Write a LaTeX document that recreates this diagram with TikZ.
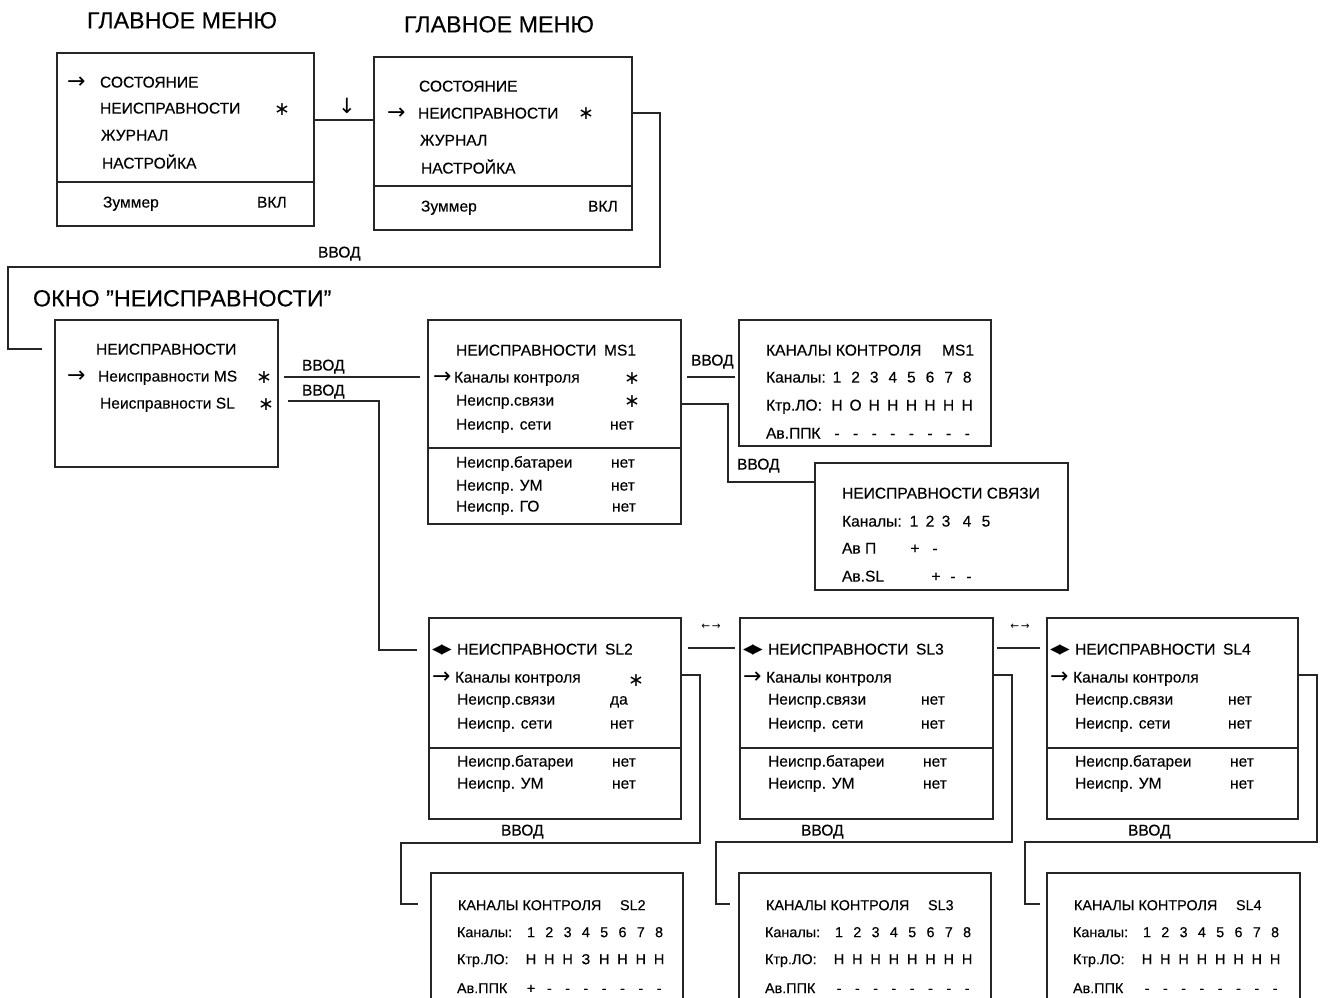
\documentclass[tikz,border=0pt]{standalone}
\usepackage{fontspec}
\setmainfont{Liberation Sans}[FakeBold=0.25]
\newfontfamily\dejavu{DejaVu Sans}
\begin{document}
\begin{tikzpicture}[x=1pt,y=-1pt, line join=miter,
  box/.style={draw=black!85, line width=1.4pt, anchor=north west, inner sep=0pt, outer sep=0pt},
  openbox/.style={anchor=north west, inner sep=0pt, outer sep=0pt},
  ln/.style={draw=black!85, line width=1.4pt},
  tx/.style={anchor=west, inner sep=0pt, outer sep=0pt, text=black, font=\fontsize{15.6}{18}\selectfont, text height=11.1pt, text depth=0pt},
  ttl/.style={tx, font=\fontsize{23.3}{27}\selectfont, text height=16.7pt},
  sm/.style={tx, font=\fontsize{14.4}{17}\selectfont, text height=10.3pt},
  cx/.style={tx, anchor=center},
  scx/.style={sm, anchor=center},
  arr/.style={tx, font=\dejavu\fontsize{22}{22}\selectfont, text height=13.4pt},
  star/.style={inner sep=0pt, outer sep=0pt, text=black, font=\dejavu\fontsize{19}{19}\selectfont},
  lr/.style={tx, font=\dejavu\fontsize{13.5}{14}\selectfont, text height=9.4pt},
  sarr/.style={inner sep=0pt, outer sep=0pt, text=black, font=\dejavu\fontsize{10.5}{11}\selectfont},
]
\useasboundingbox (0,0) rectangle (1322,998);

% ---------- titles ----------
\node[ttl] (t1) at (87,20) {ГЛАВНОЕ МЕНЮ};
\node[ttl] (t2) at (404,24) {ГЛАВНОЕ МЕНЮ};
\node[ttl] (t3) at (33,298) {ОКНО {\char34}НЕИСПРАВНОСТИ{\char34}};

% ---------- boxes ----------
\node[box, minimum width=257pt, minimum height=173pt] (A) at (57,53) {};
\node[box, minimum width=258pt, minimum height=173pt] (B) at (374,57) {};
\node[box, minimum width=223pt, minimum height=147pt] (C) at (55,320) {};
\node[box, minimum width=253pt, minimum height=204pt] (D) at (428,320) {};
\node[box, minimum width=252pt, minimum height=126pt] (E) at (739,320) {};
\node[box, minimum width=253pt, minimum height=127pt] (F) at (815,463) {};
\node[box, minimum width=252pt, minimum height=201pt] (S2) at (429,618) {};
\node[box, minimum width=253pt, minimum height=201pt] (S3) at (740,618) {};
\node[box, minimum width=251pt, minimum height=201pt] (S4) at (1047,618) {};
\node[openbox, minimum width=252pt, minimum height=125pt] (K2) at (431,873) {};
\node[openbox, minimum width=252pt, minimum height=125pt] (K3) at (739,873) {};
\node[openbox, minimum width=253pt, minimum height=125pt] (K4) at (1047,873) {};
\draw[ln] (K2.south west) |- (K2.north east) -- (K2.south east);
\draw[ln] (K3.south west) |- (K3.north east) -- (K3.south east);
\draw[ln] (K4.south west) |- (K4.north east) -- (K4.south east);

% separators
\draw[ln] (A.west |- 0,182) -- (A.east |- 0,182);
\draw[ln] (B.west |- 0,186) -- (B.east |- 0,186);
\draw[ln] (D.west |- 0,448) -- (D.east |- 0,448);
\draw[ln] (S2.west |- 0,748) -- (S2.east |- 0,748);
\draw[ln] (S3.west |- 0,748) -- (S3.east |- 0,748);
\draw[ln] (S4.west |- 0,748) -- (S4.east |- 0,748);

% ---------- box A ----------
\node[arr] (a0) at (67,82) {→};
\node[tx] (a1) at (100,82) {СОСТОЯНИЕ};
\node[tx] (a2) at (100,108) {НЕИСПРАВНОСТИ};
\node[star] (a2s) at (282,110) {∗};
\node[tx] (a3) at (101,135) {ЖУРНАЛ};
\node[tx] (a4) at (102,163) {НАСТРОЙКА};
\node[tx] (a5) at (103,202) {Зуммер};
\node[tx] (a6) at (257,202) {ВКЛ};

% ---------- box B ----------
\node[tx] (b1) at (419,86) {СОСТОЯНИЕ};
\node[arr] (b0) at (387,113) {→};
\node[tx] (b2) at (418,113) {НЕИСПРАВНОСТИ};
\node[star] (b2s) at (586,114) {∗};
\node[tx] (b3) at (420,140) {ЖУРНАЛ};
\node[tx] (b4) at (421,168) {НАСТРОЙКА};
\node[tx] (b5) at (421,206) {Зуммер};
\node[tx] (b6) at (588,206) {ВКЛ};

% ---------- box C ----------
\node[tx] (c1) at (96,349) {НЕИСПРАВНОСТИ};
\node[arr] (c0) at (67,376) {→};
\node[tx] (c2) at (98,376) {Неисправности MS};
\node[star] (c2s) at (264,378) {∗};
\node[tx] (c3) at (100,403) {Неисправности SL};
\node[star] (c3s) at (266,405) {∗};

% ---------- box D ----------
\node[tx] (d1) at (456,350) {НЕИСПРАВНОСТИ};
\node[tx] (d1b) at (604,350) {MS1};
\node[arr] (d0) at (433,377) {→};
\node[tx] (d2) at (454,377) {Каналы контроля};
\node[star] (d2s) at (632,379) {∗};
\node[tx] (d3) at (456,400) {Неиспр.связи};
\node[star] (d3s) at (632,402) {∗};
\node[tx] (d4) at (456,424) {Неиспр. сети};
\node[tx] (d4v) at (610,424) {нет};
\node[tx] (d5) at (456,462) {Неиспр.батареи};
\node[tx] (d5v) at (611,462) {нет};
\node[tx] (d6) at (456,485) {Неиспр. УМ};
\node[tx] (d6v) at (611,485) {нет};
\node[tx] (d7) at (456,506) {Неиспр. ГО};
\node[tx] (d7v) at (612,506) {нет};

% ---------- box E ----------
\node[tx] (e1) at (766,350) {КАНАЛЫ КОНТРОЛЯ};
\node[tx] (e1b) at (942,350) {MS1};
\node[tx] (e2) at (766,377) {Каналы:};
\node[tx] (e3) at (766,405) {Ктр.ЛО:};
\node[tx] (e4) at (766,433) {Ав.ППК};
\foreach \ch [count=\i] in {1,2,3,4,5,6,7,8}
  \node[cx] (ek\i) at ({837+18.6*(\i-1)},377) {\ch};
\foreach \ch [count=\i] in {Н,О,Н,Н,Н,Н,Н,Н}
  \node[cx] (el\i) at ({837+18.6*(\i-1)},405) {\ch};
\foreach \ch [count=\i] in {-,-,-,-,-,-,-,-}
  \node[cx] (ep\i) at ({837+18.6*(\i-1)},433) {\ch};

% ---------- box F ----------
\node[tx] (f1) at (842,493) {НЕИСПРАВНОСТИ СВЯЗИ};
\node[tx] (f2) at (842,521) {Каналы:};
\foreach \ch/\xx [count=\i] in {1/914,2/930,3/946,4/967,5/986}
  \node[cx] (fk\i) at (\xx,521) {\ch};
\node[tx] (f3) at (842,548) {Ав П};
\node[cx] (f3a) at (915,548) {+};
\node[cx] (f3b) at (935,548) {-};
\node[tx] (f4) at (842,576) {Ав.SL};
\node[cx] (f4a) at (936,576) {+};
\node[cx] (f4b) at (953,576) {-};
\node[cx] (f4c) at (969,576) {-};

% ---------- SL boxes ----------
\foreach \nm/\dx/\lab in {S2/0/SL2,S3/311/SL3,S4/618/SL4}{
  \node[lr] (\nm-lr) at ({432+\dx},649) {◀\hspace{-1pt}▶};
  \node[tx] (\nm-h) at ({457+\dx},649) {НЕИСПРАВНОСТИ};
  \node[tx] (\nm-hb) at ({605+\dx},649) {\lab};
  \node[arr] (\nm-ar) at ({432+\dx},677) {→};
  \node[tx] (\nm-r1) at ({455+\dx},677) {Каналы контроля};
  \node[tx] (\nm-r2) at ({457+\dx},699) {Неиспр.связи};
  \node[tx] (\nm-r3) at ({457+\dx},723) {Неиспр. сети};
  \node[tx] (\nm-r3v) at ({610+\dx},723) {нет};
  \node[tx] (\nm-r4) at ({457+\dx},761) {Неиспр.батареи};
  \node[tx] (\nm-r4v) at ({612+\dx},761) {нет};
  \node[tx] (\nm-r5) at ({457+\dx},783) {Неиспр. УМ};
  \node[tx] (\nm-r5v) at ({612+\dx},783) {нет};
}
\node[star] (S2-s) at (636,681) {∗};
\node[tx] (S2-r2v) at (610,699) {да};
\node[tx] (S3-r2v) at (921,699) {нет};
\node[tx] (S4-r2v) at (1228,699) {нет};

% ---------- bottom channel boxes ----------
\foreach \nm/\dx/\lab in {K2/0/SL2,K3/308/SL3,K4/616/SL4}{
  \node[sm] (\nm-h) at ({458+\dx},905) {КАНАЛЫ КОНТРОЛЯ};
  \node[sm] (\nm-hb) at ({620+\dx},905) {\lab};
  \node[sm] (\nm-r1) at ({457+\dx},932) {Каналы:};
  \node[sm] (\nm-r2) at ({457+\dx},959) {Ктр.ЛО:};
  \node[sm] (\nm-r3) at ({457+\dx},988) {Ав.ППК};
  \foreach \ch [count=\i] in {1,2,3,4,5,6,7,8}
    \node[scx] (\nm-k\i) at ({531+\dx+18.3*(\i-1)},932) {\ch};
}
\foreach \ch [count=\i] in {Н,Н,Н,З,Н,Н,Н,Н}
  \node[scx] (K2-l\i) at ({531+18.3*(\i-1)},959) {\ch};
\foreach \ch [count=\i] in {+,-,-,-,-,-,-,-}
  \node[scx] (K2-p\i) at ({531+18.3*(\i-1)},988) {\ch};
\foreach \nm/\dx in {K3/308,K4/616}{
  \foreach \i in {1,...,8}{
    \node[scx] (\nm-l\i) at ({531+\dx+18.3*(\i-1)},959) {Н};
    \node[scx] (\nm-p\i) at ({531+\dx+18.3*(\i-1)},988) {-};
  }
}

% ---------- connectors ----------
% A -> B
\draw[ln] (A.east |- 0,120) -- (B.west |- 0,120);
\node[inner sep=0pt, font=\dejavu\fontsize{21}{21}\selectfont] (dn) at (347,106) {↓};
% B -> C
\coordinate (cin) at (42,349);
\draw[ln] (B.east |- 0,113) -- (660,113) -- (660,267) -- (8,267) -- (8,349) -- (cin);
\node[tx] (v0) at (318,252) {ВВОД};
% C -> D
\coordinate (cds) at (284,377);
\coordinate (cde) at (420,377);
\draw[ln] (cds) -- (cde);
\node[tx] (v1) at (302,365) {ВВОД};
% C -> S2
\coordinate (css) at (288,401);
\coordinate (cse) at (417,650);
\draw[ln] (css) -- (379,401) -- (379,650) -- (cse);
\node[tx] (v2) at (302,390) {ВВОД};
% D -> E
\coordinate (des) at (687,377);
\coordinate (dee) at (735,377);
\draw[ln] (des) -- (dee);
\node[tx] (v3) at (691,360) {ВВОД};
% D -> F
\draw[ln] (D.east |- 0,404) -- (728,404) -- (728,482) -- (F.west |- 0,482);
\node[tx] (v4) at (737,464) {ВВОД};
% S2 -> S3 -> S4
\coordinate (s23a) at (688,648);
\coordinate (s23b) at (735,648);
\draw[ln] (s23a) -- (s23b);
\node[sarr] (lr1) at (711,627) {←\hspace{1.5pt}→};
\coordinate (s34a) at (997,648);
\coordinate (s34b) at (1040,648);
\draw[ln] (s34a) -- (s34b);
\node[sarr] (lr2) at (1020,627) {←\hspace{1.5pt}→};
% S2 -> K2
\coordinate (k2in) at (418,904);
\draw[ln] (S2.east |- 0,675) -- (700,675) -- (700,843) -- (401,843) -- (401,904) -- (k2in);
\node[tx] (v5) at (501,830) {ВВОД};
% S3 -> K3
\coordinate (k3in) at (730,904);
\draw[ln] (S3.east |- 0,675) -- (1012,675) -- (1012,842) -- (716,842) -- (716,904) -- (k3in);
\node[tx] (v6) at (801,830) {ВВОД};
% S4 -> K4
\coordinate (k4in) at (1040,904);
\draw[ln] (S4.east |- 0,675) -- (1317,675) -- (1317,842) -- (1025,842) -- (1025,904) -- (k4in);
\node[tx] (v7) at (1128,830) {ВВОД};
\end{tikzpicture}
\end{document}
